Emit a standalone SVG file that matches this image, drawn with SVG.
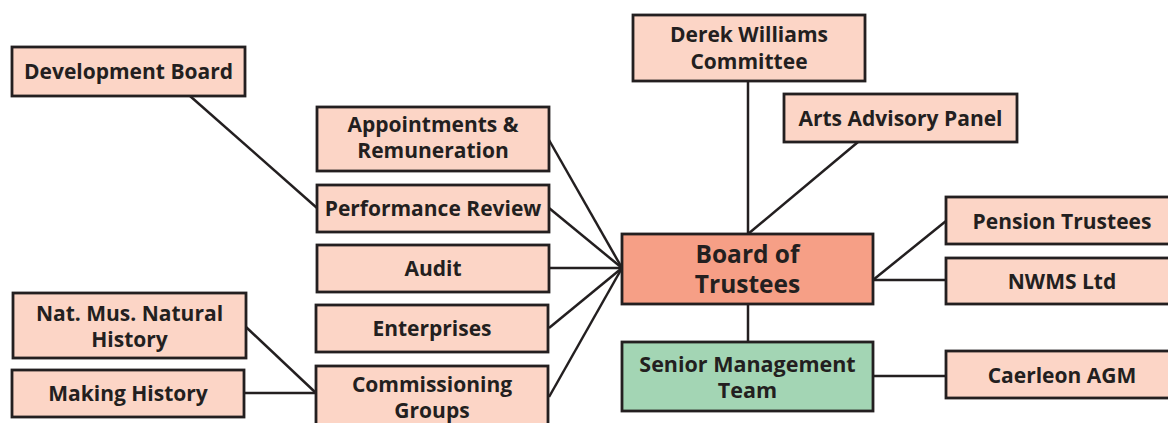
<svg xmlns="http://www.w3.org/2000/svg" width="1168" height="423" viewBox="0 0 1168 423">
<style>
.box{fill:#FCD5C6;stroke:#231F20;stroke-width:2.8}
.board{fill:#F69F86;stroke:#231F20;stroke-width:2.8}
.smt{fill:#A3D5B4;stroke:#231F20;stroke-width:2.8}
.t{font-family:"Open Sans","Noto Sans",sans-serif;font-weight:bold;font-size:21px;fill:#231F20;text-anchor:middle}
.tb{font-size:24.5px}
.ts{font-size:21.5px}
.c line{stroke:#231F20;stroke-width:2.5}
</style>
<g class="c" id="connectors">
<line x1="190" y1="96" x2="317" y2="208"/>
<line x1="549" y1="140" x2="622" y2="268"/>
<line x1="549" y1="208" x2="622" y2="268"/>
<line x1="549" y1="268" x2="622" y2="268"/>
<line x1="549" y1="328" x2="622" y2="268"/>
<line x1="549" y1="397" x2="622" y2="268"/>
<line x1="246" y1="327" x2="316" y2="393"/>
<line x1="244" y1="393" x2="316" y2="393"/>
<line x1="748" y1="81" x2="748" y2="234"/>
<line x1="858" y1="142" x2="748" y2="234"/>
<line x1="946" y1="221" x2="873" y2="280"/>
<line x1="873" y1="280" x2="946" y2="280"/>
<line x1="748" y1="304" x2="748" y2="342"/>
<line x1="873" y1="376" x2="946" y2="376"/>
</g>
<g id="development-board"><rect class="box" x="12" y="47" width="233" height="49"/><text class="t" x="128.5" y="79">Development Board</text></g>
<g id="appointments"><rect class="box" x="317" y="107" width="232" height="64"/><text class="t" x="433" y="132">Appointments &amp;</text><text class="t" x="433" y="158">Remuneration</text></g>
<g id="performance-review"><rect class="box" x="317" y="185" width="232" height="47"/><text class="t" x="433" y="215.5">Performance Review</text></g>
<g id="audit"><rect class="box" x="317" y="245" width="232" height="47"/><text class="t" x="433" y="276">Audit</text></g>
<g id="enterprises"><rect class="box" x="316" y="305" width="232" height="47"/><text class="t" x="432" y="336">Enterprises</text></g>
<g id="commissioning-groups"><rect class="box" x="316" y="366" width="232" height="70"/><text class="t" x="432" y="392">Commissioning</text><text class="t" x="432" y="418">Groups</text></g>
<g id="nat-mus"><rect class="box" x="13" y="293" width="233" height="65"/><text class="t" x="129.5" y="321">Nat. Mus. Natural</text><text class="t" x="129.5" y="347">History</text></g>
<g id="making-history"><rect class="box" x="12" y="370" width="232" height="47"/><text class="t" x="128" y="401">Making History</text></g>
<g id="derek-williams"><rect class="box" x="633" y="15" width="232" height="66"/><text class="t" x="749" y="42">Derek Williams</text><text class="t" x="749" y="69">Committee</text></g>
<g id="arts-advisory"><rect class="box" x="784" y="94" width="233" height="48"/><text class="t" x="900.5" y="125.5">Arts Advisory Panel</text></g>
<g id="board"><rect class="board" x="622" y="234" width="251" height="70"/><text class="t tb" x="747.5" y="263">Board of</text><text class="t tb" x="747.5" y="293">Trustees</text></g>
<g id="senior-management"><rect class="smt" x="622" y="342" width="251" height="69"/><text class="t ts" x="747.5" y="371.5">Senior Management</text><text class="t ts" x="747.5" y="398">Team</text></g>
<g id="pension-trustees"><rect class="box" x="946" y="197" width="232" height="47"/><text class="t" x="1062" y="229">Pension Trustees</text></g>
<g id="nwms"><rect class="box" x="946" y="258" width="232" height="46"/><text class="t" x="1062" y="289">NWMS Ltd</text></g>
<g id="caerleon"><rect class="box" x="946" y="351" width="232" height="47"/><text class="t" x="1062" y="383">Caerleon AGM</text></g>
</svg>
